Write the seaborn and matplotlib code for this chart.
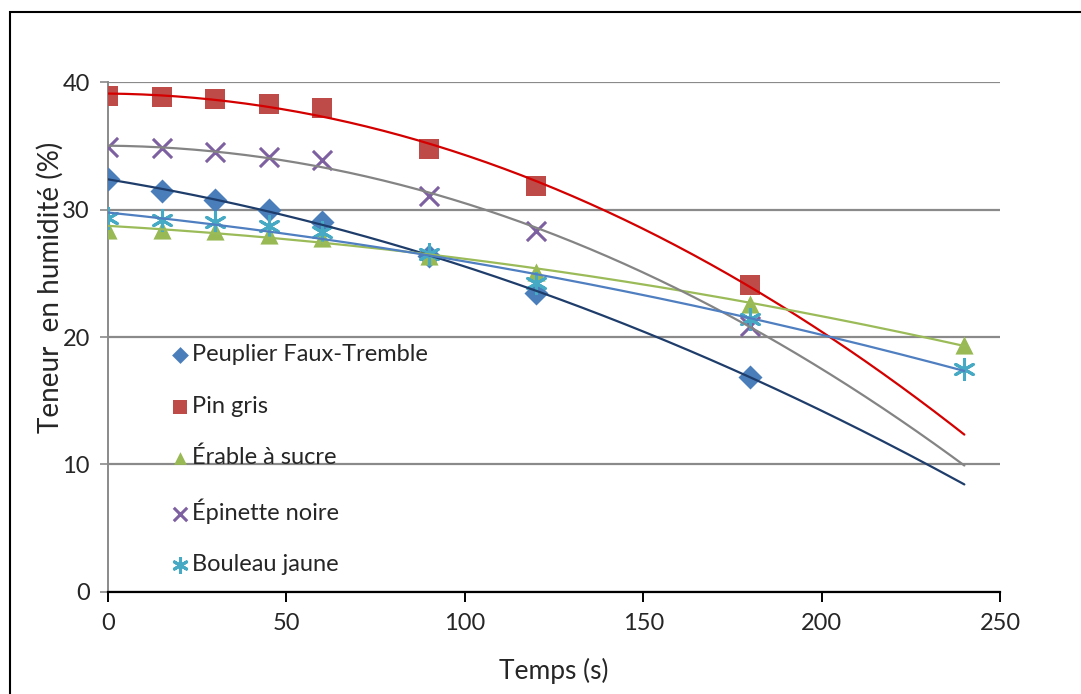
import numpy as np
import pandas as pd
import matplotlib
matplotlib.use("Agg")
import matplotlib.pyplot as plt
import seaborn as sns
from matplotlib.patches import Rectangle

temps = [0, 15, 30, 45, 60, 90, 120, 180, 240]

peuplier = [32.4, 31.45, 30.75, 30.0, 29.0, 26.35, 23.45, 16.9, None]
pin_gris = [38.9, 38.8, 38.65, 38.3, 37.95, 34.75, 31.85, 24.1, None]
erable = [28.4, 28.4, 28.35, 28.0, 27.75, 26.35, 25.1, 22.6, 19.4]
epinette = [34.9, 34.8, 34.5, 34.1, 33.9, 31.05, 28.3, 20.9, None]
bouleau = [29.3, 29.2, 29.0, 28.7, 28.2, 26.5, 24.2, 21.4, 17.5]

especes = ["Peuplier Faux-Tremble", "Pin gris", "Érable à sucre",
           "Épinette noire", "Bouleau jaune"]
valeurs = [peuplier, pin_gris, erable, epinette, bouleau]
couleurs_points = ["#4a7ebb", "#be4b48", "#98b954", "#7d60a0", "#46aac5"]
couleurs_tendance = ["#1f3d6b", "#d40000", "#9bbb59", "#848484", "#4f7fc0"]
marqueurs = ["D", "s", "^", "x", (6, 2, 0)]
tailles = [150, 210, 170, 190, 210]

sns.set_theme(style="white")
plt.rcParams["font.family"] = ["Lato", "DejaVu Sans"]

fig = plt.figure(figsize=(10.81, 6.94), dpi=100)
ax = fig.add_axes([0.0999, 0.147, 0.8252, 0.7348])

# cadre autour du graphique
fig.patches.append(Rectangle((10 / 1081, -0.1), 1.2, 1 - 12 / 694 + 0.1,
                             transform=fig.transFigure, fill=False,
                             edgecolor="black", linewidth=1.5))

handles = []
for nom, vals, cp, ct, m, s in zip(especes, valeurs, couleurs_points,
                                   couleurs_tendance, marqueurs, tailles):
    df = pd.DataFrame({"t": temps, "h": vals}).dropna()
    lw = 2.2 if m in ("x", (6, 2, 0)) else 0
    sns.scatterplot(data=df, x="t", y="h", ax=ax, marker=m, s=s,
                    color=cp, edgecolor=cp, linewidth=lw, zorder=3)
    handles.append(ax.collections[-1])
    # courbe de tendance polynomiale d'ordre 2
    coef = np.polyfit(df["t"], df["h"], 2)
    xs = np.linspace(0, 240, 200)
    fit = pd.DataFrame({"t": xs, "h": np.polyval(coef, xs)})
    sns.lineplot(data=fit, x="t", y="h", ax=ax, color=ct, linewidth=1.6,
                 zorder=4)

ax.set_xlim(0, 250)
ax.set_ylim(0, 40)
ax.set_xticks([0, 50, 100, 150, 200, 250])
ax.set_yticks([0, 10, 20, 30, 40])
ax.grid(axis="y", color="#8a8a8a", linewidth=1.6)
ax.set_axisbelow(True)

for side in ("top", "right"):
    ax.spines[side].set_visible(False)
ax.spines["left"].set_color("#8a8a8a")
ax.spines["left"].set_linewidth(1.4)
ax.spines["bottom"].set_color("black")
ax.spines["bottom"].set_linewidth(1.6)

ax.tick_params(axis="x", bottom=True, direction="out", length=7, width=1.4,
               color="black", labelsize=17, pad=8)
ax.tick_params(axis="y", left=True, direction="out", length=6, width=1.2,
               color="#8a8a8a", labelsize=17, pad=7)

ax.set_xlabel("Temps (s)", fontsize=19, labelpad=17)
ax.set_ylabel("Teneur  en humidité (%)", fontsize=20)
ax.yaxis.set_label_coords(-0.050, 0.598)

leg = ax.legend(handles, especes, loc="upper left",
                bbox_to_anchor=(0.045, 0.527), frameon=False, fontsize=17,
                labelspacing=1.28, handletextpad=0.05, handlelength=0.9,
                markerscale=0.7)

fig.savefig("out.png", dpi=100)
